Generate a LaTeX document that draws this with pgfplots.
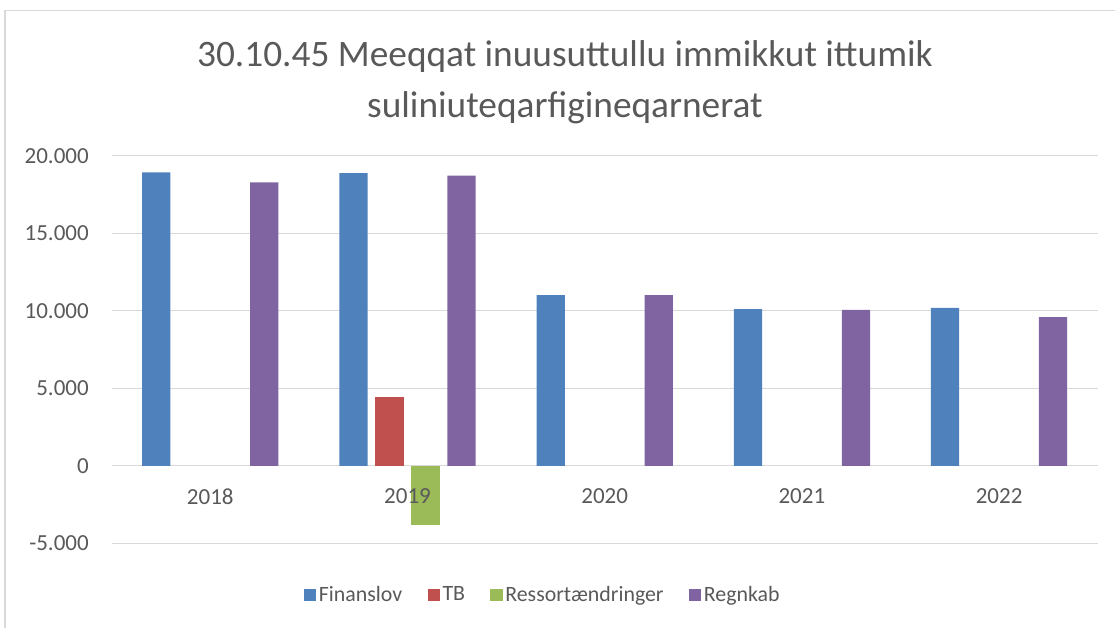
\documentclass[border=0pt]{standalone}
\usepackage{fontspec}
\setmainfont{Carlito}
\usepackage{pgfplots}
\pgfplotsset{compat=1.18}
\definecolor{cFin}{RGB}{79,129,189}
\definecolor{cTB}{RGB}{192,80,77}
\definecolor{cRes}{RGB}{155,187,89}
\definecolor{cReg}{RGB}{128,100,162}
\definecolor{txt}{RGB}{89,89,89}
\definecolor{grd}{RGB}{217,217,217}
\pgfplotsset{
  common/.style={
    at={(0,0)}, anchor=south west,
    scale only axis, width=739.5pt, height=290.7pt,
    xmin=-0.5, xmax=4.5, ymin=-5000, ymax=20000,
    axis line style={draw=none}, major tick length=0pt,
    tick label style={font=\fontsize{17.25}{20}\selectfont, text=txt},
  },
}
\begin{document}
\begin{tikzpicture}[x=1pt,y=1pt]
\draw[grd, line width=1pt] (-80.0,-80) -- (-80.0,399.5) -- (770,399.5);
\begin{axis}[
  common,
  xtick={0,1,2,3,4}, xticklabels={},
  ytick={-5000,0,5000,10000,15000,20000},
  yticklabels={-5.000,0,5.000,10.000,15.000,20.000},
  scaled y ticks=false,
  ymajorgrids, grid style={grd, line width=0.75pt},
  yticklabel style={anchor=east, inner sep=0pt, xshift=-17pt},
  ybar, bar width=21.2pt,
  title={30.10.45 Meeqqat inuusuttullu immikkut ittumik\\suliniuteqarfigineqarnerat},
  title style={at={(0.4597,1)}, anchor=north, inner sep=0pt, yshift=80.5pt,
    font=\fontsize{28}{38.5}\selectfont, text=txt, align=center},
  legend style={at={(0.4375,-0.133)}, anchor=center, draw=none, fill=none,
    legend columns=4, font=\fontsize{16.4}{20}\selectfont, text=txt,
    /tikz/every even column/.append style={column sep=17pt}},
  legend image code/.code={\fill[#1] (-1.5pt,-4.6pt) rectangle (7.7pt,4.6pt);},
]
\addplot[fill=cFin, draw=none, bar shift=-40.5pt] coordinates {(0,18930) (1,18880) (2,11010) (3,10110) (4,10190)};
\addplot[fill=cTB, draw=none, bar shift=-13.5pt] coordinates {(1,4410)};
\addplot[fill=cRes, draw=none, bar shift=13.5pt] coordinates {(1,-3830)};
\addplot[fill=cReg, draw=none, bar shift=40.5pt] coordinates {(0,18280) (1,18710) (2,11010) (3,10050) (4,9590)};
\legend{Finanslov,TB,Ressortændringer,Regnkab}
\end{axis}
\begin{axis}[
  common,
  xtick={0,1,2,3,4}, xticklabels={2018,2019,2020,2021,2022},
  ytick=\empty,
  xticklabel style={anchor=center, inner sep=0pt, yshift=35.1pt},
]
\addplot[draw=none, forget plot] coordinates {(0,0) (4,0)};
\end{axis}
\pgfresetboundingbox
\useasboundingbox (-83.775,-63.525) rectangle (752.475,407.475);
\end{tikzpicture}
\end{document}
